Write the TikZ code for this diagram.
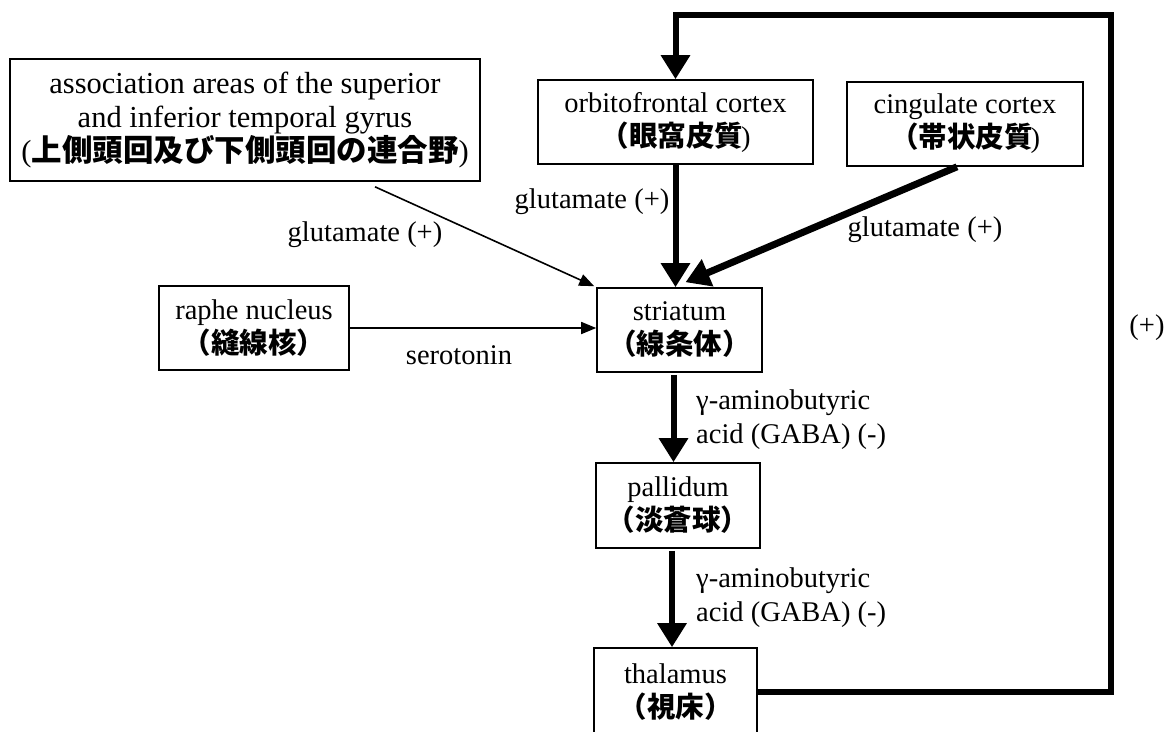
\documentclass[tikz,border=0pt]{standalone}
\usepackage{fontspec}
\setmainfont{Liberation Serif}
\newfontfamily\cjk{Noto Sans CJK JP}
\usetikzlibrary{arrows.meta,calc}
\begin{document}
\begin{tikzpicture}[x=1pt,y=-1pt,
  every node/.style={font=\fontsize{28.5}{34}\selectfont, inner sep=0pt, align=center},
  box/.style={draw, line width=1.6pt},
  thickarrow/.style={line width=6pt, -{Triangle[width=28pt,length=24pt]}},
  thinarrow/.style={line width=1.6pt, -{Triangle[width=12pt,length=15pt]}},
  loopline/.style={line width=6pt, line join=miter, -{Triangle[width=28pt,length=24pt]}}]
\useasboundingbox (0,0) rectangle (1174,731);
\clip (0,0) rectangle (1174,731);
\fill[white] (0,0) rectangle (1174,731);

\node[box, minimum width=470pt, minimum height=122pt, font=\fontsize{30.5}{34}\selectfont] (assoc) at (245,120)
  {association areas of the superior\\and inferior temporal gyrus\\({\cjk\bfseries 上側頭回及び下側頭回の連合野})};
\node[box, minimum width=275pt, minimum height=84pt] (orbito) at (675.5,122)
  {orbitofrontal cortex\\{\cjk\bfseries （眼窩皮質}\hspace{-2pt})};
\node[box, minimum width=236pt, minimum height=84pt] (cing) at (965,124)
  {cingulate cortex\\{\cjk\bfseries （帯状皮質}\hspace{-2pt})};
\node[box, minimum width=190pt, minimum height=84pt] (raphe) at (254,328)
  {raphe nucleus\\{\cjk\bfseries （縫線核）}};
\node[box, minimum width=165pt, minimum height=84pt] (striatum) at (679.5,330)
  {striatum\\{\cjk\bfseries （線条体）}};
\node[box, minimum width=164pt, minimum height=85pt] (pallidum) at (678,505.5)
  {pallidum\\{\cjk\bfseries （淡蒼球）}};
\node[box, minimum width=163pt, minimum height=88pt] (thal) at (675.5,692)
  {thalamus\\{\cjk\bfseries （視床）}};

% labels
\node (lassoc) at (365,235) {glutamate (+)};
\node (lorbito) at (592,202) {glutamate (+)};
\node (lcing) at (925,230) {glutamate (+)};
\node (lsero) at (459,355) {serotonin};
\node[anchor=west, align=left] (lgaba1) at (696,420) {γ-aminobutyric\\acid (GABA) (-)};
\node[anchor=west, align=left] (lgaba2) at (696,598) {γ-aminobutyric\\acid (GABA) (-)};
\node (lplus) at (1147,328) {(+)};

% connectors
\coordinate (corner) at (1111,15);
\draw[loopline] (thal.east) -| (corner) -| (orbito.north);
\draw[thickarrow] (orbito.south) -- (orbito.south |- striatum.north);
\draw[thickarrow, line width=7pt] ($(cing.south)+(-8,0)$) -- ($(striatum.north)+(6,-5)$);
\draw[thinarrow] ($(assoc.south)+(130,5)$) -- ($(striatum.north west)+(-2,-1)$);
\draw[thinarrow] (raphe.east) -- (raphe.east -| striatum.west);
\coordinate (s1) at ($(striatum.south)+(-6,2)$);
\draw[thickarrow] (s1) -- (s1 |- pallidum.north);
\coordinate (p1) at ($(pallidum.south)+(-6,2)$);
\draw[thickarrow] (p1) -- (p1 |- thal.north);
\end{tikzpicture}
\end{document}
